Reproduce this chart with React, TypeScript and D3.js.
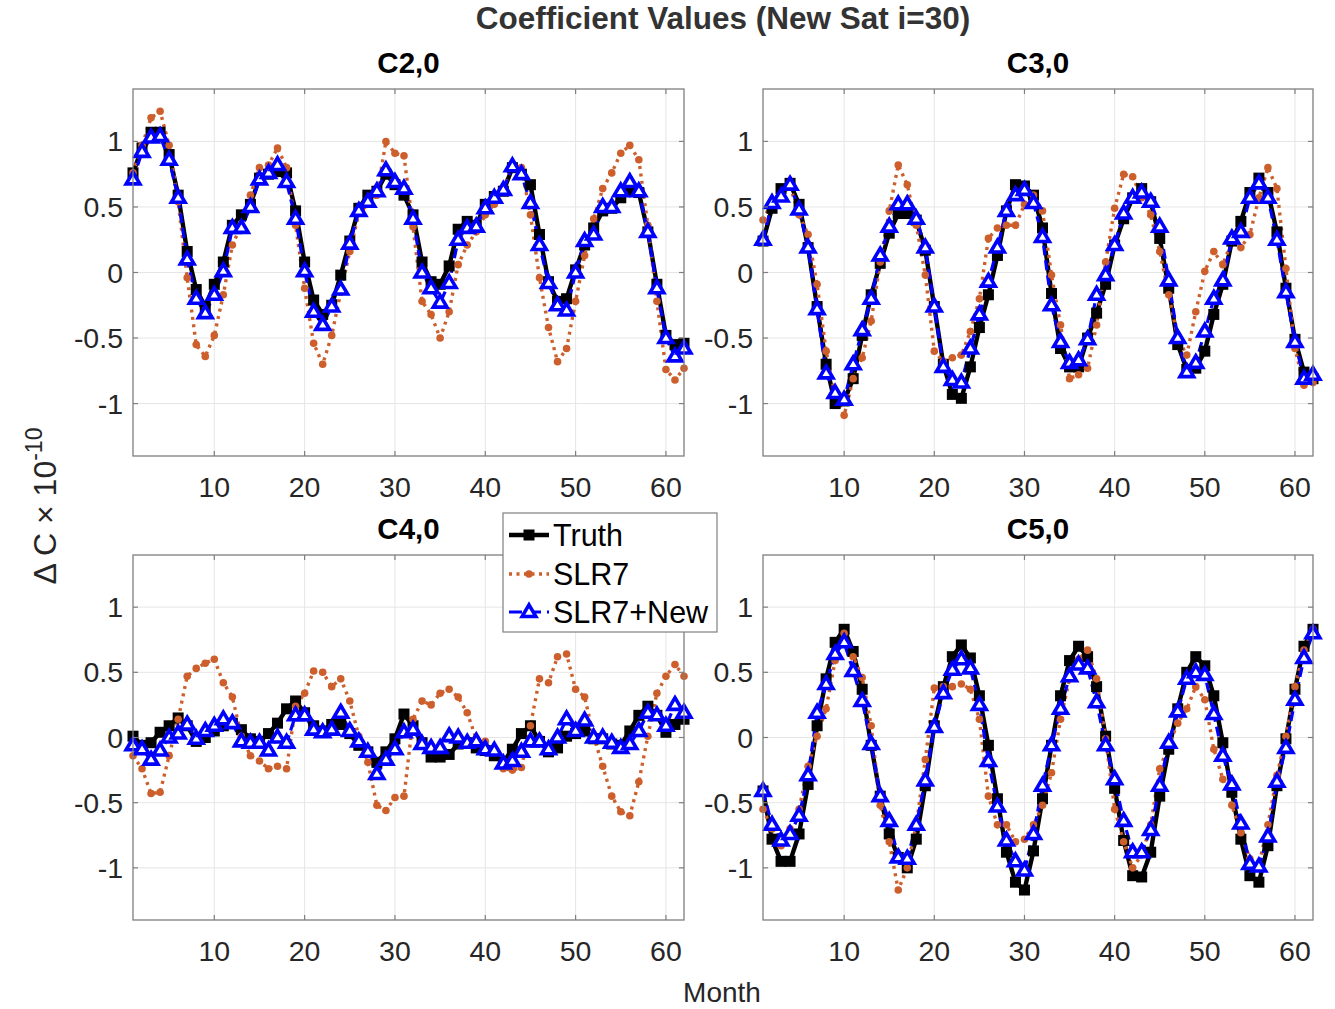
import React from "react";
import * as d3 from "d3";

const months = d3.range(1, 63);
const xTicks = [10, 20, 30, 40, 50, 60];
const yTicks = [-1, -0.5, 0, 0.5, 1];
const yTickLabels = ["-1", "-0.5", "0", "0.5", "1"];
const seriesNames = ["Truth", "SLR7", "SLR7+New"];
const panelTitles = ["C2,0", "C3,0", "C4,0", "C5,0"];

const c20Truth = [0.76,0.95,1.07,1.07,0.90,0.59,0.16,-0.13,-0.26,-0.09,0.08,0.36,0.44,0.52,0.72,0.75,0.77,0.76,0.47,0.08,-0.21,-0.32,-0.25,-0.02,0.24,0.49,0.59,0.62,0.75,0.67,0.59,0.44,0.08,-0.07,-0.09,0.05,0.33,0.39,0.36,0.52,0.58,0.62,0.80,0.75,0.67,0.29,-0.07,-0.22,-0.20,0.02,0.21,0.34,0.47,0.49,0.57,0.62,0.61,0.31,-0.09,-0.48,-0.55,-0.54];
const c20Slr7 = [0.76,0.97,1.18,1.23,0.97,0.54,-0.04,-0.55,-0.64,-0.48,-0.17,0.21,0.36,0.59,0.80,0.82,0.95,0.80,0.36,-0.12,-0.54,-0.70,-0.48,-0.15,0.16,0.45,0.52,0.59,1.00,0.91,0.89,0.35,-0.22,-0.32,-0.50,-0.30,0.06,0.21,0.31,0.44,0.52,0.64,0.82,0.80,0.44,-0.04,-0.42,-0.68,-0.58,-0.22,0.13,0.41,0.64,0.76,0.91,0.97,0.86,0.36,-0.22,-0.74,-0.82,-0.73];
const c20New = [0.71,0.92,1.03,1.04,0.86,0.57,0.10,-0.20,-0.31,-0.17,0.01,0.34,0.34,0.50,0.71,0.76,0.82,0.69,0.41,0.01,-0.30,-0.40,-0.26,-0.13,0.22,0.47,0.54,0.62,0.78,0.69,0.64,0.41,0.00,-0.12,-0.23,-0.08,0.25,0.34,0.35,0.49,0.57,0.63,0.81,0.75,0.53,0.21,-0.08,-0.25,-0.29,0.00,0.24,0.29,0.50,0.50,0.62,0.69,0.62,0.31,-0.12,-0.50,-0.64,-0.58];

const c30Truth = [0.24,0.49,0.64,0.68,0.52,0.19,-0.26,-0.70,-1.00,-0.98,-0.81,-0.48,-0.17,0.07,0.30,0.45,0.45,0.40,0.17,-0.26,-0.70,-0.93,-0.96,-0.72,-0.42,-0.17,0.13,0.47,0.67,0.66,0.59,0.34,-0.16,-0.58,-0.72,-0.72,-0.50,-0.31,-0.09,0.21,0.41,0.57,0.64,0.54,0.26,-0.12,-0.55,-0.74,-0.73,-0.60,-0.32,-0.09,0.24,0.39,0.61,0.72,0.61,0.31,-0.12,-0.51,-0.76,-0.81];
const c30Slr7 = [0.40,0.54,0.59,0.66,0.44,0.29,-0.09,-0.60,-0.93,-1.09,-0.81,-0.65,-0.37,0.08,0.47,0.82,0.67,0.36,-0.02,-0.60,-0.68,-0.65,-0.63,-0.45,-0.20,0.26,0.34,0.36,0.36,0.52,0.59,0.47,-0.02,-0.40,-0.81,-0.78,-0.73,-0.40,0.08,0.49,0.75,0.73,0.57,0.44,0.16,-0.17,-0.50,-0.63,-0.30,0.01,0.16,0.06,0.24,0.19,0.29,0.57,0.80,0.64,0.03,-0.58,-0.86,-0.84];
const c30New = [0.25,0.53,0.58,0.67,0.48,0.19,-0.28,-0.77,-0.92,-0.97,-0.70,-0.44,-0.20,0.13,0.35,0.52,0.52,0.41,0.19,-0.26,-0.72,-0.82,-0.84,-0.58,-0.32,-0.07,0.19,0.47,0.59,0.63,0.53,0.27,-0.25,-0.53,-0.69,-0.67,-0.51,-0.17,-0.02,0.21,0.45,0.57,0.61,0.54,0.35,-0.06,-0.50,-0.76,-0.69,-0.45,-0.20,-0.06,0.26,0.31,0.57,0.68,0.57,0.25,-0.15,-0.53,-0.81,-0.78];

const c40Truth = [0.01,-0.06,-0.04,0.04,0.09,0.15,0.09,-0.03,0.00,0.05,0.09,0.11,0.06,-0.01,-0.03,0.03,0.11,0.22,0.28,0.19,0.09,0.05,0.10,0.10,0.03,-0.06,-0.11,-0.19,-0.11,-0.01,0.18,0.09,-0.04,-0.15,-0.15,-0.13,-0.05,-0.04,-0.08,-0.10,-0.14,-0.19,-0.09,0.03,0.09,-0.03,-0.11,-0.08,0.01,0.03,0.05,-0.01,-0.01,-0.05,-0.06,0.05,0.17,0.24,0.17,0.04,0.10,0.14];
const c40Slr7 = [-0.14,-0.24,-0.43,-0.42,-0.14,0.14,0.47,0.53,0.57,0.60,0.42,0.31,0.01,-0.14,-0.18,-0.24,-0.22,-0.24,0.24,0.34,0.51,0.50,0.39,0.45,0.28,0.01,-0.19,-0.52,-0.56,-0.46,-0.45,0.14,0.28,0.25,0.34,0.37,0.31,0.19,-0.01,-0.03,-0.09,-0.24,-0.25,-0.23,0.09,0.45,0.42,0.62,0.64,0.37,0.31,0.01,-0.22,-0.45,-0.57,-0.60,-0.34,0.01,0.34,0.47,0.56,0.47];
const c40New = [-0.06,-0.09,-0.17,-0.10,0.00,0.03,0.10,-0.01,0.05,0.09,0.14,0.11,-0.03,-0.04,-0.04,-0.10,0.00,-0.04,0.17,0.17,0.06,0.04,0.06,0.19,0.05,-0.03,-0.11,-0.28,-0.17,-0.09,0.04,0.06,-0.05,-0.08,-0.08,0.01,0.00,-0.04,-0.03,-0.09,-0.10,-0.20,-0.18,-0.11,-0.03,-0.03,-0.09,0.00,0.14,0.05,0.13,0.00,0.00,-0.04,-0.08,-0.05,0.05,0.19,0.17,0.09,0.25,0.19];

const c50Truth = [-0.41,-0.78,-0.95,-0.95,-0.74,-0.36,0.09,0.45,0.73,0.83,0.66,0.37,-0.06,-0.45,-0.74,-0.92,-1.00,-0.78,-0.37,0.09,0.39,0.62,0.71,0.61,0.32,-0.06,-0.47,-0.88,-1.11,-1.17,-0.87,-0.47,-0.06,0.32,0.59,0.70,0.62,0.39,0.01,-0.39,-0.79,-1.06,-1.07,-0.88,-0.45,-0.09,0.22,0.50,0.62,0.55,0.32,-0.04,-0.42,-0.78,-1.06,-1.11,-0.83,-0.37,-0.01,0.37,0.70,0.83];
const c50Slr7 = [-0.55,-0.70,-0.83,-0.70,-0.55,-0.22,0.01,0.22,0.59,0.80,0.62,0.46,0.09,-0.52,-0.80,-1.17,-1.00,-0.67,-0.17,0.38,0.39,0.39,0.41,0.37,0.14,-0.45,-0.67,-0.67,-0.80,-0.78,-0.67,-0.52,-0.27,0.14,0.45,0.60,0.67,0.45,-0.01,-0.55,-0.80,-1.00,-0.90,-0.67,-0.24,-0.06,0.11,0.22,0.39,0.29,-0.09,-0.32,-0.52,-0.73,-0.93,-0.98,-0.67,-0.29,0.01,0.39,0.67,0.83];
const c50New = [-0.41,-0.67,-0.79,-0.74,-0.60,-0.29,0.19,0.41,0.64,0.73,0.51,0.28,-0.05,-0.45,-0.64,-0.92,-0.93,-0.67,-0.33,0.08,0.34,0.52,0.60,0.53,0.25,-0.18,-0.53,-0.79,-0.95,-1.02,-0.74,-0.37,-0.06,0.22,0.47,0.56,0.53,0.27,-0.06,-0.32,-0.64,-0.88,-0.88,-0.71,-0.37,-0.04,0.20,0.45,0.50,0.48,0.18,-0.14,-0.36,-0.66,-0.97,-0.99,-0.76,-0.34,-0.08,0.29,0.61,0.80];

const panelData = [
  [c20Truth, c20Slr7, c20New],
  [c30Truth, c30Slr7, c30New],
  [c40Truth, c40Slr7, c40New],
  [c50Truth, c50Slr7, c50New],
];

const panelBoxes = [
  { left: 133, right: 684, top: 89, bottom: 456 },
  { left: 763, right: 1313, top: 89, bottom: 456 },
  { left: 133, right: 684, top: 555, bottom: 920 },
  { left: 763, right: 1313, top: 555, bottom: 920 },
];

const FONT = "'Liberation Sans', Arial, Helvetica, sans-serif";
const ORANGE = "#cd5f2c";
const BLUE = "#0000ff";
const TXT = "#262626";

function Marker({ kind, x, y }: { kind: number; x: number; y: number }) {
  if (kind === 0) {
    return <rect x={x - 5.5} y={y - 5.5} width={11} height={11} fill="#000" />;
  }
  if (kind === 1) {
    return <circle cx={x} cy={y} r={3.8} fill={ORANGE} />;
  }
  const s = 7.2;
  const pts = `${x},${y - s} ${x + s * 0.95},${y + s * 0.62} ${x - s * 0.95},${y + s * 0.62}`;
  return <polygon points={pts} fill="#fff" stroke={BLUE} strokeWidth={3.6} strokeLinejoin="miter" />;
}

const lineStyles = [
  { stroke: "#000", width: 4.4, dash: "none" },
  { stroke: ORANGE, width: 3.4, dash: "3 4.5" },
  { stroke: BLUE, width: 3.2, dash: "10 5" },
];

function Panel({ idx }: { idx: number }) {
  const b = panelBoxes[idx];
  const x = d3.scaleLinear().domain([1, 62]).range([b.left, b.right]);
  const y = d3.scaleLinear().domain([-1.4, 1.4]).range([b.bottom, b.top]);
  const line = d3
    .line<number>()
    .x((_, i) => x(months[i]))
    .y((d) => y(d));
  const cx = (b.left + b.right) / 2;
  return (
    <g>
      <rect x={b.left} y={b.top} width={b.right - b.left} height={b.bottom - b.top} fill="#fff" />
      {xTicks.map((t) => (
        <line key={"gx" + t} x1={x(t)} x2={x(t)} y1={b.top} y2={b.bottom} stroke="#e6e6e6" strokeWidth={1} />
      ))}
      {yTicks.map((t) => (
        <line key={"gy" + t} x1={b.left} x2={b.right} y1={y(t)} y2={y(t)} stroke="#e6e6e6" strokeWidth={1} />
      ))}
      {panelData[idx].map((vals, si) => (
        <path
          key={"l" + si}
          d={line(vals) || ""}
          fill="none"
          stroke={lineStyles[si].stroke}
          strokeWidth={lineStyles[si].width}
          strokeDasharray={lineStyles[si].dash}
          strokeLinejoin="round"
        />
      ))}
      {panelData[idx].map((vals, si) => (
        <g key={"m" + si}>
          {vals.map((v, i) => (
            <Marker key={i} kind={si} x={x(months[i])} y={y(v)} />
          ))}
        </g>
      ))}
      <rect
        x={b.left}
        y={b.top}
        width={b.right - b.left}
        height={b.bottom - b.top}
        fill="none"
        stroke="#7f7f7f"
        strokeWidth={1.3}
      />
      {xTicks.map((t) => (
        <g key={"tx" + t}>
          <line x1={x(t)} x2={x(t)} y1={b.bottom} y2={b.bottom - 5} stroke="#7f7f7f" strokeWidth={1.2} />
          <line x1={x(t)} x2={x(t)} y1={b.top} y2={b.top + 5} stroke="#7f7f7f" strokeWidth={1.2} />
          <text x={x(t)} y={b.bottom + 41} textAnchor="middle" fontSize={28.5} fill={TXT} fontFamily={FONT}>
            {t}
          </text>
        </g>
      ))}
      {yTicks.map((t, i) => (
        <g key={"ty" + t}>
          <line x1={b.left} x2={b.left + 5} y1={y(t)} y2={y(t)} stroke="#7f7f7f" strokeWidth={1.2} />
          <line x1={b.right} x2={b.right - 5} y1={y(t)} y2={y(t)} stroke="#7f7f7f" strokeWidth={1.2} />
          <text x={b.left - 10} y={y(t) + 10} textAnchor="end" fontSize={28.5} fill={TXT} fontFamily={FONT}>
            {yTickLabels[i]}
          </text>
        </g>
      ))}
      <text x={cx} y={b.top - 16} textAnchor="middle" fontSize={29.5} fontWeight="bold" fill="#000" fontFamily={FONT}>
        {panelTitles[idx]}
      </text>
    </g>
  );
}

function Legend() {
  const lx = 503;
  const ly = 513;
  const rows = [535, 574, 612];
  return (
    <g>
      <rect x={lx} y={ly} width={214} height={119} fill="#fff" stroke="#7f7f7f" strokeWidth={1.2} />
      {seriesNames.map((name, si) => (
        <g key={name}>
          <line
            x1={lx + 6}
            x2={lx + 46}
            y1={rows[si]}
            y2={rows[si]}
            stroke={lineStyles[si].stroke}
            strokeWidth={lineStyles[si].width}
            strokeDasharray={si === 1 ? "3 4.5" : si === 2 ? "13 6" : "none"}
          />
          <Marker kind={si} x={lx + 26} y={rows[si]} />
          <text x={lx + 50} y={rows[si] + 11} fontSize={30.5} fill="#000" fontFamily={FONT}>
            {name}
          </text>
        </g>
      ))}
    </g>
  );
}

export default function App() {
  return (
    <svg
      width={1335}
      height={1009}
      style={{ position: "absolute", left: 0, top: 0, background: "#fff" }}
      fontFamily={FONT}
    >
      <rect x={0} y={0} width={1335} height={1009} fill="#fff" />
      <text x={723} y={29} textAnchor="middle" fontSize={31.5} fontWeight="bold" fill="#333" fontFamily={FONT}>
        Coefficient Values (New Sat i=30)
      </text>
      {[0, 1, 2, 3].map((i) => (
        <Panel key={i} idx={i} />
      ))}
      <Legend />
      <text x={722} y={1002} textAnchor="middle" fontSize={28} fill={TXT} fontFamily={FONT}>
        Month
      </text>
      <text
        transform="translate(56,506) rotate(-90)"
        textAnchor="middle"
        fontSize={32}
        fill={TXT}
        fontFamily={FONT}
      >
        {"Δ C × 10"}
        <tspan fontSize={23} dy={-14}>
          -10
        </tspan>
      </text>
    </svg>
  );
}
